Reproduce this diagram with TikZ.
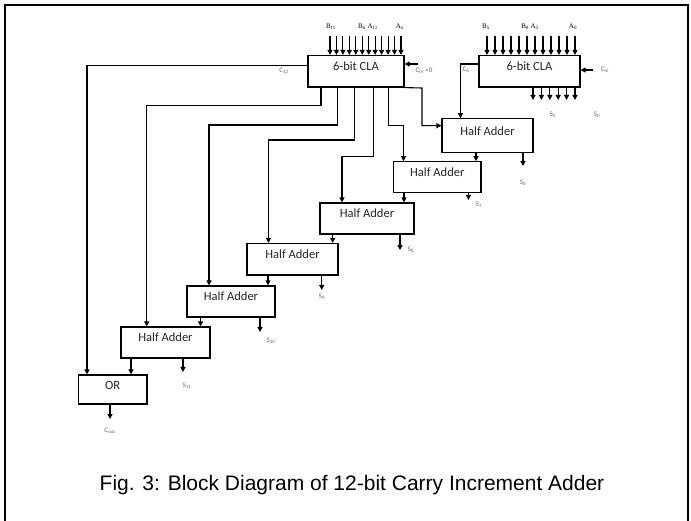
\documentclass[tikz,border=0pt]{standalone}
\usepackage{fontspec}
\setmainfont{Carlito}
\newfontfamily\capfont{Liberation Sans}
\newfontfamily\pinfont{Liberation Serif}
\usetikzlibrary{arrows.meta, positioning}
\newcommand{\sub}[1]{\textsubscript{#1}}

\begin{document}
\begin{tikzpicture}[
      x=1pt, y=-1pt,
      block/.style={draw, line width=1.2pt, text=black!85, font=\fontsize{12.5}{14}\selectfont,
        text height=8pt, text depth=9pt, inner sep=0pt},
      arr/.style={-{Triangle[length=5pt, width=5pt]}, line width=1.1pt},
      pin/.style={font=\pinfont\fontsize{7}{8}\selectfont, inner sep=0pt},
      sig/.style={font=\fontsize{7}{8}\selectfont, text=black!60, inner sep=0pt}
    ]
    \useasboundingbox (0,0) rectangle (691,521);
    \draw[line width=2pt] (5,521) -- (5,5) -- (688,5) -- (688,521);

    % carry lookahead blocks
    \node[block, minimum width=96pt, minimum height=31.5pt] (claH) at (356,71.25) {6-bit CLA};
    \node[block, minimum width=101pt, minimum height=31.5pt] (claL) at (529.5,71.25) {6-bit CLA};

    % half adder chain
    \node[block, minimum width=91pt, minimum height=34pt] (ha6) at (487.5,135.8) {Half Adder};
    \node[block, minimum width=87.4pt, minimum height=31pt] (ha7) at (437.3,177.3) {Half Adder};
    \node[block, minimum width=94pt, minimum height=31pt] (ha8) at (367,218.5) {Half Adder};
    \node[block, minimum width=91pt, minimum height=31.5pt] (ha9) at (292.5,259.3) {Half Adder};
    \node[block, minimum width=88pt, minimum height=31pt] (ha10) at (231,301.5) {Half Adder};
    \node[block, minimum width=89pt, minimum height=31pt] (ha11) at (165.5,342.5) {Half Adder};
    \node[block, minimum width=68.5pt, minimum height=29pt] (orgate) at (112.7,389.5) {OR};

    % operand inputs
    \foreach \i in {0,...,11} {
      \coordinate (inH\i) at (330+\i*6.45,36);
      \draw[arr] (inH\i) -- (inH\i |- claH.north);
      \coordinate (inL\i) at (487+\i*8,36);
      \draw[arr] (inL\i) -- (inL\i |- claL.north);
    }
    \node[pin] (b11) at (331,26.5) {B\sub{11}};
    \node[pin] (b6a11) at (368,26.5) {B\sub{6} A\sub{11}};
    \node[pin] (a6) at (400,26.5) {A\sub{6}};
    \node[pin] (b5) at (486,26.5) {B\sub{5}};
    \node[pin] (b0a5) at (530,26.5) {B\sub{0} A\sub{5}};
    \node[pin] (a0) at (573,26.5) {A\sub{0}};

    % carry inputs
    \coordinate (cinH) at (418,64);
    \draw[arr] (cinH) -- (cinH -| claH.east);
    \node[sig] (cinHlbl) at (424,70.5) {C\sub{in} =0};
    \coordinate (cinL) at (593,70);
    \draw[arr] (cinL) -- (cinL -| claL.east);
    \node[sig] (cinLlbl) at (605,70) {C\sub{in}};

    % low block sums
    \foreach \i in {0,...,5} {
      \coordinate (sL\i) at (533+\i*8.4,100);
      \draw[arr] (sL\i |- claL.south) -- (sL\i);
    }
    \node[sig] (s5) at (553,115) {S\sub{5}};
    \node[sig] (s0) at (597,115) {S\sub{0}};

    % carries out of the CLAs
    \coordinate (c12) at (87,65.5);
    \draw[arr] (claH.west |- c12) -- (c12) -- (c12 |- orgate.north);
    \node[sig] (c12lbl) at (284,71) {C\sub{12}};
    \coordinate (c6) at (460.5,64);
    \draw[arr] (claL.west |- c6) -- (c6) -- (c6 |- ha6.north);
    \node[sig] (c6lbl) at (466,70) {C\sub{6}};

    % high block sums to the half adders
    \foreach \tx/\ty/\hx/\dst in {321/105.7/146.7/ha11, 337.7/125/209/ha10,
        354.3/140/268.5/ha9, 373.3/156.5/342/ha8, 388.3/125.7/403.5/ha7} {
      \coordinate (tap\dst) at (\tx,\ty);
      \coordinate (bend\dst) at (\hx,\ty);
      \draw[arr] (tap\dst |- claH.south) -- (tap\dst) -- (bend\dst) -- (bend\dst |- \dst.north);
    }
    \coordinate (tap6) at (422,88);
    \coordinate (bend6) at (422,125.7);
    \draw[arr] (claH.south east) -- (tap6) -- (bend6) -- (bend6 -| ha6.west);

    % carry chain
    \foreach \a/\b/\cx in {ha6/ha7/476, ha7/ha8/404, ha8/ha9/332.7,
        ha9/ha10/268, ha10/ha11/200.5, ha11/orgate/131} {
      \coordinate (cy\a) at (\cx,0);
      \draw[arr] (cy\a |- \a.south) -- (cy\a |- \b.north);
    }

    % sum outputs
    \foreach \src/\sx/\sy/\lx/\ly/\txt in {ha6/523/166/523/183/S\sub{6}, ha7/468.5/200/479/205/S\sub{7},
        ha8/400/250/411/250/S\sub{8}, ha9/321.7/290/322/297/S\sub{9},
        ha10/260/332/271/340.5/S\sub{10}, ha11/183/372/187/386/S\sub{11},
        orgate/110/419/110/431/C\sub{out}} {
      \coordinate (out\src) at (\sx,\sy);
      \draw[arr] (out\src |- \src.south) -- (out\src);
      \node[sig] (lbl\src) at (\lx,\ly) {\txt};
    }

    \node[font=\capfont\fontsize{21}{23}\selectfont] (caption) at (352,485)
      {Fig. 3: Block Diagram of 12-bit Carry Increment Adder};
\end{tikzpicture}
\end{document}
